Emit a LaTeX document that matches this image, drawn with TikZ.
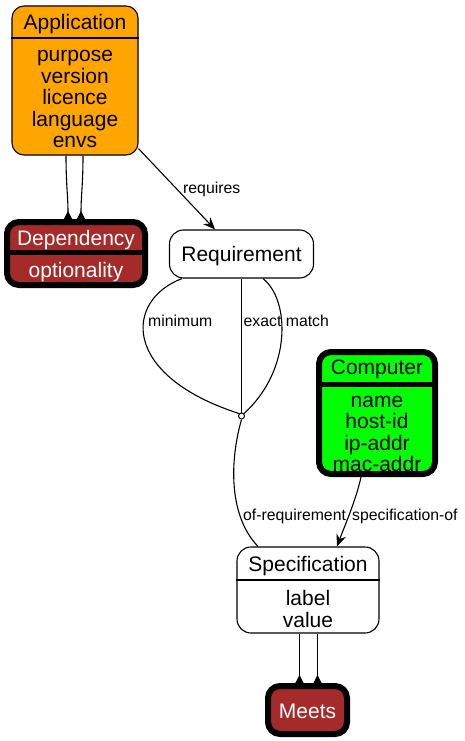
\documentclass[tikz,border=0pt]{standalone}
\usepackage{fontspec}
\setmainfont{Liberation Sans}
\usetikzlibrary{arrows.meta}
\definecolor{appor}{HTML}{FFA500}
\definecolor{depbr}{HTML}{A52A2A}
\definecolor{compgr}{HTML}{00FF00}
\begin{document}
\begin{tikzpicture}[x=1pt,y=-1pt,
  box/.style={draw, rounded corners=12pt, line width=1.1pt, inner sep=0pt, anchor=center},
  thickbox/.style={box, line width=6pt},
  ntext/.style={font=\fontsize{21}{21.5}\selectfont, align=center, inner sep=0pt},
  etext/.style={font=\fontsize{15.8}{17}\selectfont, inner sep=0pt, anchor=west},
  conn/.style={line width=1.1pt},
  invtip/.style={-{Triangle[reversed,length=8pt,width=8pt]}},
  veetip/.style={-{Stealth[length=12pt,width=10pt,inset=4pt]}},
  sep/.style={line width=1.1pt},
  thicksep/.style={line width=5pt},
]
\useasboundingbox (0,0) rectangle (464,741);
\fill[white] (0,0) rectangle (464,741);

% Application
\node[box, fill=appor, minimum width=126pt, minimum height=149pt] (app) at (75,80.5) {};
\draw[sep] (app.west |- 0,38) -- (app.east |- 0,38);
\node[ntext] (appT) at (75,24) {Application};
\node[ntext] (appB) at (75,99) {purpose\\version\\licence\\language\\envs};

% Dependency
\node[thickbox, fill=depbr, minimum width=138pt, minimum height=63pt] (dep) at (76,253.5) {};
\draw[thicksep] (dep.west |- 0,252.5) -- (dep.east |- 0,252.5);
\node[ntext, text=white] (depT) at (76,240) {Dependency};
\node[ntext, text=white] (depB) at (76,272) {optionality};

% Requirement
\node[box, rounded corners=14pt, fill=white, minimum width=144pt, minimum height=48pt] (req) at (241.5,254) {};
\node[ntext] (reqT) at (241.5,256) {Requirement};

% Computer
\node[thickbox, fill=compgr, minimum width=116pt, minimum height=122pt] (comp) at (377,413) {};
\draw[thicksep] (comp.west |- 0,384) -- (comp.east |- 0,384);
\node[ntext] (compT) at (377,369) {Computer};
\node[ntext] (compB) at (377,434) {name\\host-id\\ip-addr\\mac-addr};

% Specification
\node[box, rounded corners=14pt, fill=white, minimum width=142pt, minimum height=86pt] (spec) at (308,590) {};
\draw[sep] (spec.west |- 0,580) -- (spec.east |- 0,580);
\node[ntext] (specT) at (308,566) {Specification};
\node[ntext] (specB) at (308,609) {label\\value};

% Meets
\node[thickbox, fill=depbr, minimum width=79pt, minimum height=48pt] (meets) at (307.5,710) {};
\node[ntext, text=white] (meetsT) at (307.5,711) {Meets};

% junction
\node[circle, draw, fill=white, inner sep=0pt, minimum size=6pt, line width=1pt] (jn) at (241.5,416) {};

% connectors
\draw[conn, invtip] (app.south -| 66,0) .. controls (66,185) and (68,195) .. (dep.north -| 68,0);
\draw[conn, invtip] (app.south -| 83,0) .. controls (83,185) and (81,195) .. (dep.north -| 81,0);

\draw[conn, veetip] (app.-47) -- (req.north -| 215,0);
\node[etext] (lreq) at (183,189.5) {requires};

\draw[conn] (req.south -| 182,0) .. controls (125,300) and (120,375) .. (jn.north west);
\draw[conn] (req.south) -- (jn.north);
\draw[conn] (req.south -| 263,0) .. controls (290,300) and (292,370) .. (jn.north east);
\node[etext] (lmin) at (148,321) {minimum};
\node[etext] (lexact) at (243.5,321) {exact match};

\draw[conn] (jn.south) .. controls (230,460) and (228,515) .. (spec.north -| 258,0);
\node[etext] (lofreq) at (243,516) {of-requirement};

\draw[conn, veetip] (comp.south -| 361,0) .. controls (356,500) and (345,525) .. (spec.north -| 337,0);
\node[etext] (lspecof) at (352,516) {specification-of};

\draw[conn, invtip] (spec.south -| 299.5,0) -- (meets.north -| 299.5,0);
\draw[conn, invtip] (spec.south -| 317.5,0) -- (meets.north -| 317.5,0);
\end{tikzpicture}
\end{document}
